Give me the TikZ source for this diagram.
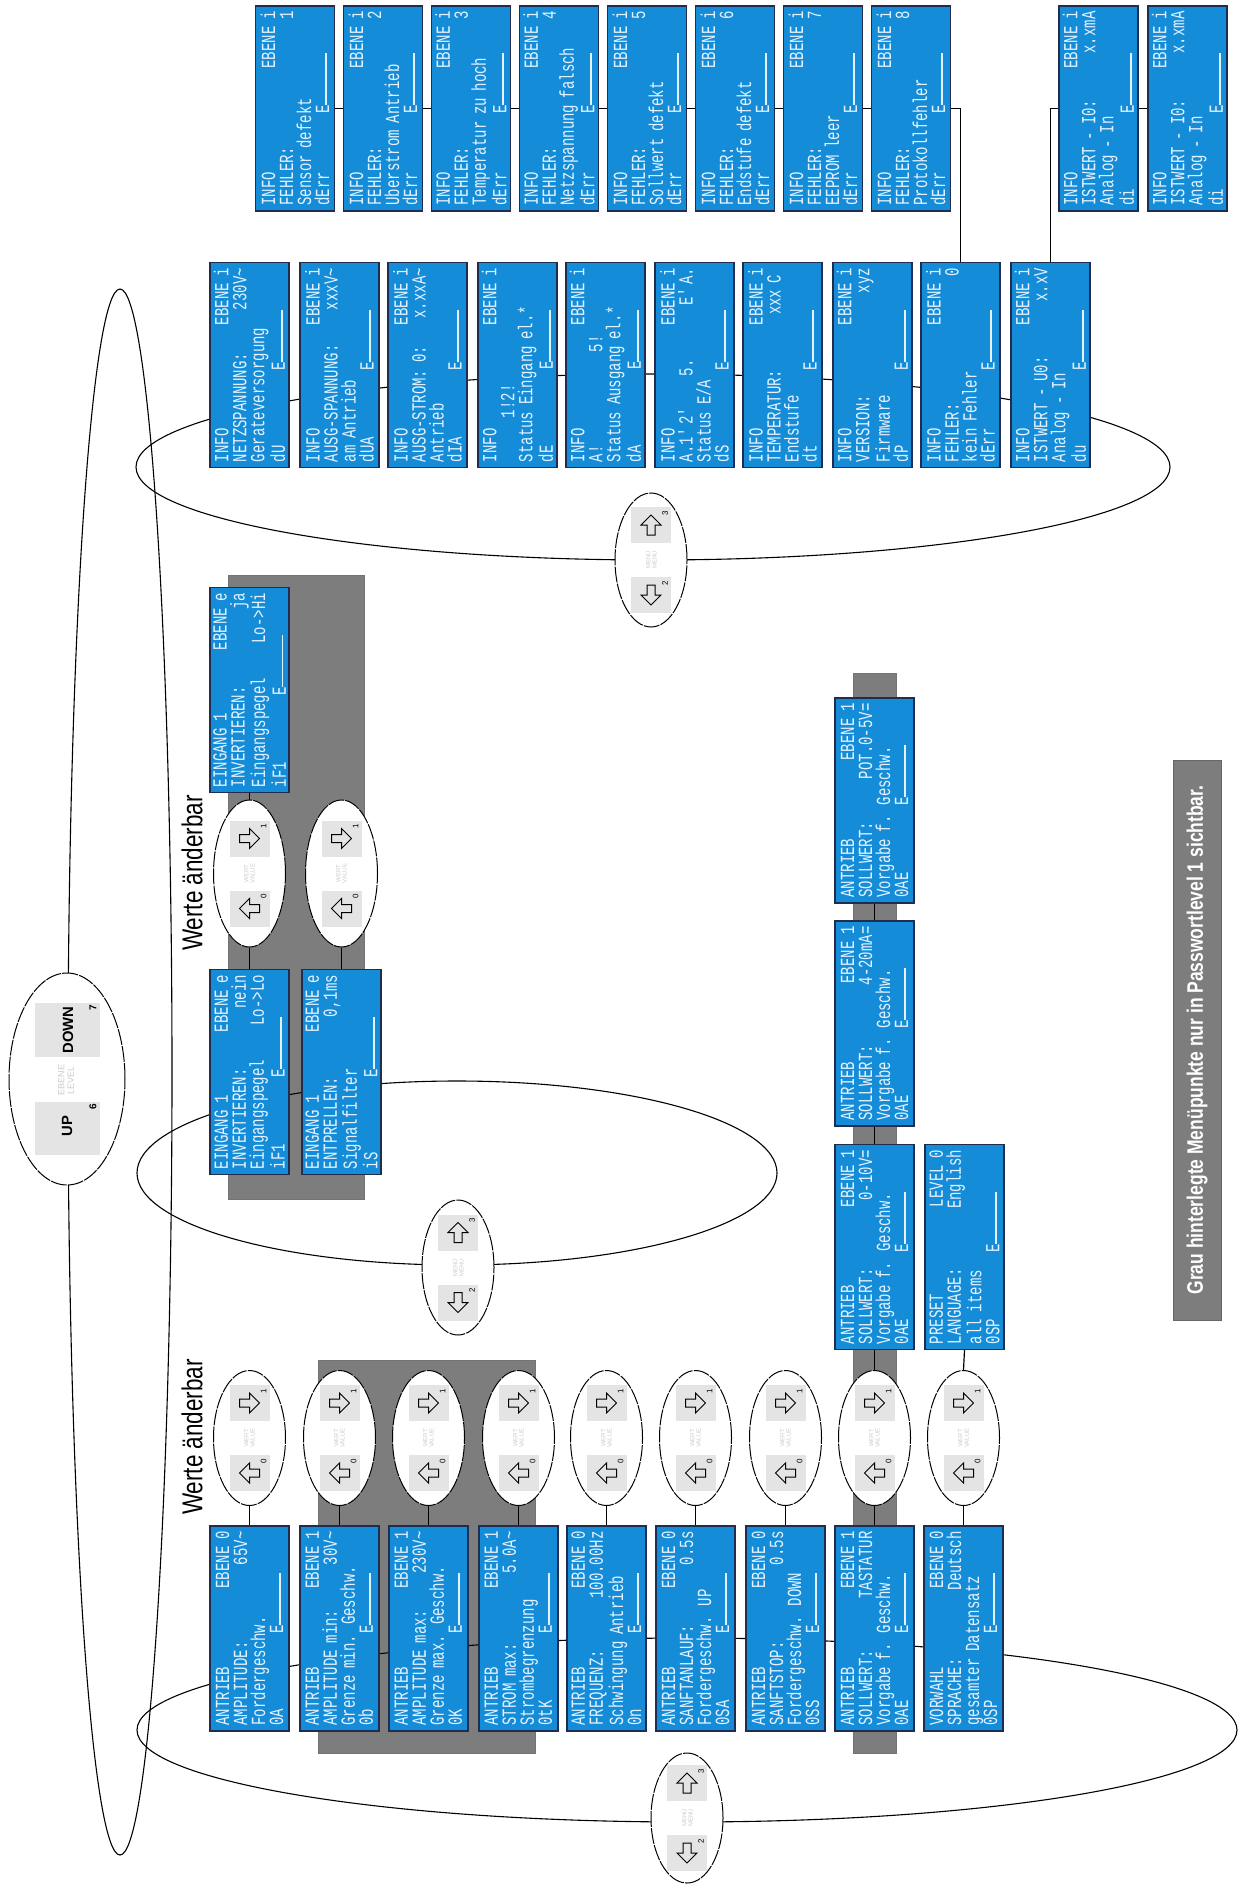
\documentclass[tikz,border=0pt]{standalone}
\usepackage{fontspec}
\setmainfont{Liberation Sans}
\newfontfamily\lcdfont[FakeStretch=0.7]{Liberation Mono}
\newfontfamily\narrowfont[FakeStretch=0.78]{Liberation Sans}
\usetikzlibrary{shapes.geometric}

\definecolor{lcdblue}{RGB}{20,140,215}
\definecolor{lcdedge}{RGB}{30,45,80}
\definecolor{lcdtext}{RGB}{228,242,255}
\definecolor{greyback}{RGB}{125,125,125}
\definecolor{keygrey}{RGB}{228,228,228}

% line 4 of a display: code left, E-bar in the middle
\newcommand{\ebar}{E\rule[0.12em]{2.6em}{0.09em}}
\newcommand{\eline}[1]{\makebox[46pt][l]{#1}\ebar}

% outlined block arrow on a key
\newcommand{\keyarrow}[3]{%
  \draw[line width=0.5pt, rotate around={#3:(#1,#2)}] (#1-10,#2-4) -- (#1,#2-4) -- (#1,#2-10)
    -- (#1+10,#2) -- (#1,#2+10) -- (#1,#2+4) -- (#1-10,#2+4) -- cycle;}

% ellipse with two keys: name, x, y, height, angles, digits, hint
\newcommand{\keypad}[9]{%
  \node[keyring, minimum height=#4] (#1) at (#2,#3) {};
  \fill[keygrey] (#2-20,#3-53) rectangle (#2+20,#3-17);
  \fill[keygrey] (#2-20,#3+17) rectangle (#2+20,#3+53);
  \keyarrow{#2}{#3-35}{#5}
  \keyarrow{#2}{#3+35}{#6}
  \node[keydigit] (#1-a) at (#2+14,#3-47) {#7};
  \node[keydigit] (#1-b) at (#2+14,#3+23) {#8};
  \node[keyhint] (#1-h) at (#2,#3) {#9};
}

\begin{document}
\begin{tikzpicture}[x=0.5pt,y=-0.5pt,
    lcd/.style={draw=lcdedge, line width=0.7pt, fill=lcdblue, text=lcdtext, rotate=90,
      minimum width=102.5pt, minimum height=39.5pt, text width=97pt, inner xsep=2.5pt,
      inner ysep=1pt, align=left, font=\lcdfont\fontsize{10}{9}\selectfont},
    keyring/.style={ellipse, draw, fill=white, line width=0.5pt, dash pattern=on 8pt off 0.6pt,
      minimum width=36pt, inner sep=0pt},
    keydigit/.style={rotate=90, inner sep=0pt, font=\fontsize{4}{4}\selectfont},
    keyhint/.style={rotate=90, inner sep=0pt, align=center, text=black!20,
      font=\fontsize{3}{3.2}\selectfont},
    ring/.style={line width=0.55pt},
    conn/.style={line width=0.6pt},
    greybox/.style={fill=greyback, draw=black!55, line width=0.4pt},
    changetext/.style={rotate=90, inner sep=0pt, font=\narrowfont\fontsize{14.4}{16}\selectfont},
  ]
  \useasboundingbox (0,0) rectangle (1239,1888);
  \fill[white] (0,0) rectangle (1239,1888);

  % grey = only in password level 1
  \filldraw[greybox] (228,575) rectangle (364,1199);
  \filldraw[greybox] (318,1360) rectangle (535,1753);
  \filldraw[greybox] (853,673) rectangle (896,1753);

  % menu rings
  \draw[ring] (120,1072) ellipse [x radius=52, y radius=783];
  \draw[ring] (653,467) ellipse [x radius=517, y radius=93];
  \draw[ring] (457,1173) ellipse [x radius=320, y radius=92];
  \draw[ring] (687,1730) ellipse [x radius=550, y radius=92];

  % error list
  \node[lcd] (e1) at (295,108.5) {INFO\hfill EBENE~i\\FEHLER:\hfill 1\\Sensor defekt\\\eline{dErr}};
  \node[lcd] (e2) at (383,108.5) {INFO\hfill EBENE~i\\FEHLER:\hfill 2\\Uberstrom Antrieb\\\eline{dErr}};
  \node[lcd] (e3) at (471,108.5) {INFO\hfill EBENE~i\\FEHLER:\hfill 3\\Temperatur zu hoch\\\eline{dErr}};
  \node[lcd] (e4) at (559,108.5) {INFO\hfill EBENE~i\\FEHLER:\hfill 4\\Netzspannung falsch\\\eline{dErr}};
  \node[lcd] (e5) at (647,108.5) {INFO\hfill EBENE~i\\FEHLER:\hfill 5\\Sollwert defekt\\\eline{dErr}};
  \node[lcd] (e6) at (735,108.5) {INFO\hfill EBENE~i\\FEHLER:\hfill 6\\Endstufe defekt\\\eline{dErr}};
  \node[lcd] (e7) at (823,108.5) {INFO\hfill EBENE~i\\FEHLER:\hfill 7\\EEPROM leer\\\eline{dErr}};
  \node[lcd] (e8) at (911,108.5) {INFO\hfill EBENE~i\\FEHLER:\hfill 8\\Protokollfehler\\\eline{dErr}};
  \node[lcd] (s1) at (1098.5,108.5) {INFO\hfill EBENE~i\\ISTWERT - I0:\hfill x.xmA\\Analog - In\\\eline{di}};
  \node[lcd] (s2) at (1187.5,108.5) {INFO\hfill EBENE~i\\ISTWERT - I0:\hfill x.xmA\\Analog - In\\\eline{di}};

  % info menu
  \node[lcd] (i1) at (249.5,365) {INFO\hfill EBENE~i\\NETZSPANNUNG:\hfill 230V\textasciitilde\\Gerateversorgung\\\eline{dU}};
  \node[lcd] (i2) at (339.5,365) {INFO\hfill EBENE~i\\AUSG-SPANNUNG:\hfill xxxV\textasciitilde\\am Antrieb\\\eline{dUA}};
  \node[lcd] (i3) at (427.5,365) {INFO\hfill EBENE~i\\AUSG-STROM: 0:\hfill x.xxA\textasciitilde\\Antrieb\\\eline{dIA}};
  \node[lcd] (i4) at (517.5,365) {INFO\hfill EBENE~i\\\hspace*{22pt}1!2!\\Status Eingang el.*\\\eline{dE}};
  \node[lcd] (i5) at (605.5,365) {INFO\hfill EBENE~i\\\makebox[55pt][l]{A!}5!\\Status Ausgang el.*\\\eline{dA}};
  \node[lcd] (i6) at (694.5,365) {INFO\hfill EBENE~i\\\makebox[43pt][l]{A.1\textquotesingle2\textquotesingle}5.\hfill E\textquotesingle A.\\Status E/A\\\eline{dS}};
  \node[lcd] (i7) at (782.5,365) {INFO\hfill EBENE~i\\TEMPERATUR:\hfill xxx C~~\\Endstufe\\\eline{dt}};
  \node[lcd] (i8) at (872.5,365) {INFO\hfill EBENE~i\\VERSION:\hfill xyz\\Firmware\\\eline{dP}};
  \node[lcd] (i9) at (960.5,365) {INFO\hfill EBENE~i\\FEHLER:\hfill 0\\kein Fehler\\\eline{dErr}};
  \node[lcd] (i10) at (1050.5,365) {INFO\hfill EBENE~i\\ISTWERT - U0:\hfill x.xV\\Analog - In\\\eline{du}};

  % input menu
  \node[lcd] (g1) at (249.5,690) {EINGANG 1\hfill EBENE~e\\INVERTIEREN:\hfill ja\\Eingangspegel\hfill Lo->Hi\\\eline{iF1}};
  \node[lcd] (g2) at (249.5,1072) {EINGANG 1\hfill EBENE~e\\INVERTIEREN:\hfill nein\\Eingangspegel\hfill Lo->Lo\\\eline{iF1}};
  \node[lcd] (g3) at (341.5,1072) {EINGANG 1\hfill EBENE~e\\ENTPRELLEN:\hfill 0,1ms\\Signalfilter\\\eline{iS}};

  % drive menu
  \node[lcd] (a1) at (249.5,1628.5) {ANTRIEB\hfill EBENE~0\\AMPLITUDE:\hfill 65V\textasciitilde\\Fordergeschw.\\\eline{0A}};
  \node[lcd] (a2) at (339.5,1628.5) {ANTRIEB\hfill EBENE~1\\AMPLITUDE min:\hfill 30V\textasciitilde\\Grenze min. Geschw.\\\eline{0b}};
  \node[lcd] (a3) at (428.5,1628.5) {ANTRIEB\hfill EBENE~1\\AMPLITUDE max:\hfill 230V\textasciitilde\\Grenze max. Geschw.\\\eline{0K}};
  \node[lcd] (a4) at (518.5,1628.5) {ANTRIEB\hfill EBENE~1\\STROM max:\hfill 5.0A\textasciitilde\\Strombegrenzung\\\eline{0tK}};
  \node[lcd] (a5) at (606.5,1628.5) {ANTRIEB\hfill EBENE~0\\FREQUENZ:\hfill 100.00Hz\\Schwingung Antrieb\\\eline{0n}};
  \node[lcd] (a6) at (695.5,1628.5) {ANTRIEB\hfill EBENE~0\\SANFTANLAUF:\hfill 0.5s\\Fordergeschw. UP\\\eline{0SA}};
  \node[lcd] (a7) at (785.5,1628.5) {ANTRIEB\hfill EBENE~0\\SANFTSTOP:\hfill 0.5s\\Fordergeschw. DOWN\\\eline{0SS}};
  \node[lcd] (a8) at (874.5,1628.5) {ANTRIEB\hfill EBENE~1\\SOLLWERT:\hfill TASTATUR\\Vorgabe f. Geschw.\\\eline{0AE}};
  \node[lcd] (a9) at (963.5,1628.5) {VORWAHL\hfill EBENE~0\\SPRACHE:\hfill Deutsch\\gesamter Datensatz\\\eline{0SP}};

  \node[lcd] (w1) at (874.5,1247) {ANTRIEB\hfill EBENE~1\\SOLLWERT:\hfill 0-10V=\\Vorgabe f. Geschw.\\\eline{0AE}};
  \node[lcd] (w2) at (874.5,1023.5) {ANTRIEB\hfill EBENE~1\\SOLLWERT:\hfill 4-20mA=\\Vorgabe f. Geschw.\\\eline{0AE}};
  \node[lcd] (w3) at (874.5,800.5) {ANTRIEB\hfill EBENE~1\\SOLLWERT:\hfill POT.0-5V=\\Vorgabe f. Geschw.\\\eline{0AE}};
  \node[lcd] (p1) at (964.5,1247) {PRESET\hfill LEVEL~0\\LANGUAGE:\hfill English\\all items\\\eline{0SP}};

  % keys
  \keypad{k1}{249.5}{1438}{67.5pt}{0}{180}{1}{0}{WERT\\VALUE}
  \keypad{k2}{339.5}{1438}{67.5pt}{0}{180}{1}{0}{WERT\\VALUE}
  \keypad{k3}{428.5}{1438}{67.5pt}{0}{180}{1}{0}{WERT\\VALUE}
  \keypad{k4}{518.5}{1438}{67.5pt}{0}{180}{1}{0}{WERT\\VALUE}
  \keypad{k5}{606.5}{1438}{67.5pt}{0}{180}{1}{0}{WERT\\VALUE}
  \keypad{k6}{695.5}{1438}{67.5pt}{0}{180}{1}{0}{WERT\\VALUE}
  \keypad{k7}{785.5}{1438}{67.5pt}{0}{180}{1}{0}{WERT\\VALUE}
  \keypad{k8}{874.5}{1438}{67.5pt}{0}{180}{1}{0}{WERT\\VALUE}
  \keypad{k9}{963.5}{1438}{67.5pt}{0}{180}{1}{0}{WERT\\VALUE}
  \keypad{ke1}{249.5}{873.5}{73.5pt}{0}{180}{1}{0}{WERT\\VALUE}
  \keypad{ke2}{341.5}{873.5}{73.5pt}{0}{180}{1}{0}{WERT\\VALUE}
  \keypad{u1}{651}{560}{67pt}{90}{270}{3}{2}{MENÜ\\MENU}
  \keypad{u2}{458}{1267.5}{67.5pt}{90}{270}{3}{2}{MENÜ\\MENU}
  \keypad{u3}{687}{1818}{65pt}{90}{270}{3}{2}{MENÜ\\MENU}

  % level keys
  \node[keyring, minimum width=58pt, minimum height=106pt] (lv) at (67,1079) {};
  \fill[keygrey] (35,1003) rectangle (100,1057);
  \fill[keygrey] (35,1102) rectangle (100,1155);
  \node[rotate=90, font=\bfseries\fontsize{7.4}{8}\selectfont] (lvdown) at (68,1030) {DOWN};
  \node[rotate=90, font=\bfseries\fontsize{7.4}{8}\selectfont] (lvup) at (67,1126) {UP};
  \node[keydigit, font=\bfseries\fontsize{5}{5}\selectfont] (lv7) at (93,1008) {7};
  \node[keydigit, font=\bfseries\fontsize{5}{5}\selectfont] (lv6) at (93,1107) {6};
  \node[keyhint, font=\fontsize{4.5}{4.8}\selectfont] (lvh) at (66,1080) {EBENE\\LEVEL};

  % connectors
  \draw[conn] (e1.south) -- (e2.north);
  \draw[conn] (e2.south) -- (e3.north);
  \draw[conn] (e3.south) -- (e4.north);
  \draw[conn] (e4.south) -- (e5.north);
  \draw[conn] (e5.south) -- (e6.north);
  \draw[conn] (e6.south) -- (e7.north);
  \draw[conn] (e7.south) -- (e8.north);
  \draw[conn] (e8.south) -| (i9.east);
  \draw[conn] (i10.east) |- (s1.north);
  \draw[conn] (s1.south) -- (s2.north);
  \draw[conn] (g1.west) -- (ke1.north);
  \draw[conn] (ke1.south) -- (g2.east);
  \draw[conn] (ke2.south) -- (g3.east);
  \draw[conn] (k1.south) -- (a1.east);
  \draw[conn] (k2.south) -- (a2.east);
  \draw[conn] (k3.south) -- (a3.east);
  \draw[conn] (k4.south) -- (a4.east);
  \draw[conn] (k5.south) -- (a5.east);
  \draw[conn] (k6.south) -- (a6.east);
  \draw[conn] (k7.south) -- (a7.east);
  \draw[conn] (k8.south) -- (a8.east);
  \draw[conn] (k9.south) -- (a9.east);
  \draw[conn] (k8.north) -- (w1.west);
  \draw[conn] (w1.east) -- (w2.west);
  \draw[conn] (w2.east) -- (w3.west);
  \draw[conn] (k9.north) -- (p1.west);

  % texts
  \node[changetext] (wa1) at (192,873) {Werte änderbar};
  \node[changetext] (wa2) at (192,1437) {Werte änderbar};
  \node[rotate=90, fill=greyback, draw=black!60, text=white, minimum width=280pt, minimum height=24pt,
    font=\narrowfont\bfseries\fontsize{11.2}{12}\selectfont] (note) at (1197,1040)
    {Grau hinterlegte Menüpunkte nur in Passwortlevel 1 sichtbar.};
\end{tikzpicture}
\end{document}
